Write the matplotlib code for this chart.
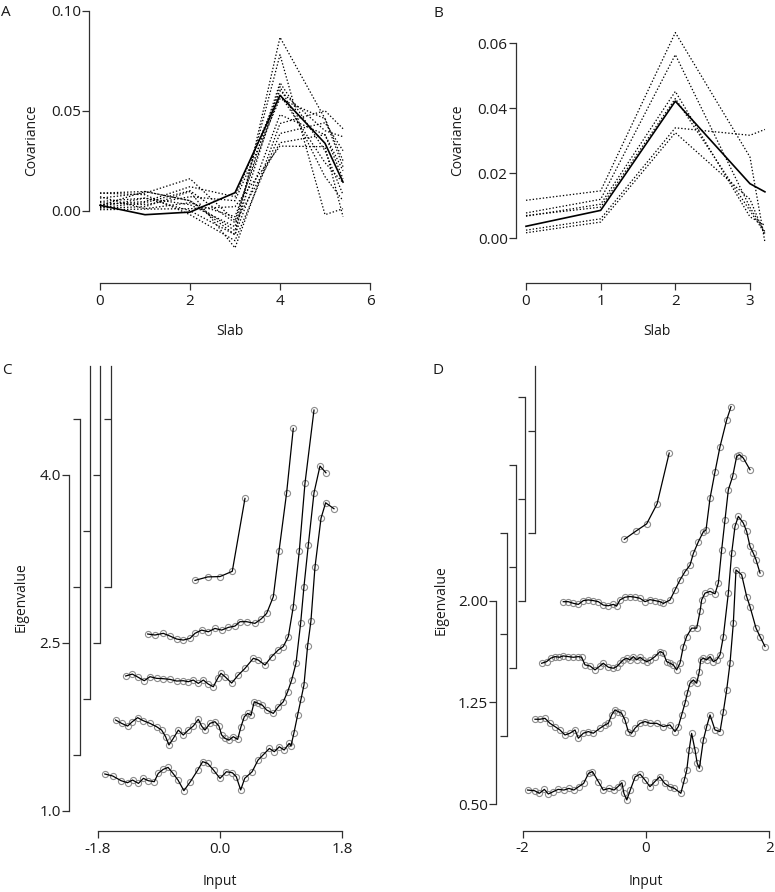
import numpy as np
import matplotlib
matplotlib.use("Agg")
import matplotlib.pyplot as plt

plt.rcParams['font.family'] = ['Open Sans', 'DejaVu Sans']

W, H = 775, 892
INK = '#303030'

# ---- panel A: covariance per slab ----
slab_a = [0, 1, 2, 3, 4, 5, 5.4]
mean_a = [0.0027, -0.0020, -0.0007, 0.0090, 0.0577, 0.0337, 0.0143]
runs_a = [
    [0.0088, 0.0096, 0.0050, -0.0120, 0.0867, 0.0460, 0.0220],
    [0.0063, 0.0088, 0.0160, -0.0050, 0.0640, 0.0300, 0.0080],
    [0.0030, 0.0046, 0.0120, 0.0070, 0.0600, 0.0400, 0.0370],
    [0.0013, 0.0020, 0.0096, -0.0186, 0.0436, 0.0500, 0.0410],
    [0.0046, 0.0063, 0.0030, -0.0080, 0.0780, -0.0020, 0.0010],
    [0.0005, 0.0008, 0.0010, 0.0020, 0.0323, 0.0320, -0.0030],
    [0.0088, 0.0080, -0.0020, -0.0150, 0.0386, 0.0440, 0.0300],
    [0.0025, 0.0096, 0.0050, -0.0100, 0.0620, 0.0170, 0.0050],
    [0.0040, 0.0030, 0.0070, 0.0050, 0.0560, 0.0460, 0.0250],
    [0.0020, 0.0063, 0.0000, -0.0120, 0.0480, 0.0380, 0.0160],
    [0.0070, 0.0010, 0.0040, -0.0030, 0.0580, 0.0240, 0.0140],
    [0.0015, 0.0040, 0.0100, -0.0060, 0.0340, 0.0380, 0.0200],
]

# ---- panel B ----
slab_b = [0, 1, 2, 3, 3.2]
mean_b = [0.0037, 0.0086, 0.0422, 0.0168, 0.0143]
runs_b = [
    [0.0117, 0.0146, 0.0633, 0.0250, -0.0012],
    [0.0078, 0.0120, 0.0565, 0.0095, 0.0020],
    [0.0068, 0.0105, 0.0452, 0.0066, 0.0040],
    [0.0025, 0.0060, 0.0340, 0.0317, 0.0335],
    [0.0017, 0.0050, 0.0325, 0.0120, 0.0010],
    [0.0070, 0.0096, 0.0430, 0.0085, 0.0015],
]

# ---- panel C: eigenvalue vs input, curves stacked by 0.5 ----
c1_x = [-1.695, -1.578, -1.455, -1.360, -1.287, -1.200, -1.127, -1.055, -0.967, -0.909,
        -0.836, -0.764, -0.691, -0.618, -0.531, -0.436, -0.327, -0.255, -0.182, -0.095,
        0.000, 0.095, 0.182, 0.240, 0.305, 0.364, 0.473, 0.560, 0.633, 0.727,
        0.800, 0.873, 0.945, 1.018, 1.045, 1.089, 1.143, 1.192, 1.236, 1.290,
        1.339, 1.398, 1.487, 1.555, 1.678]
c1_y = [1.328, 1.310, 1.268, 1.250, 1.274, 1.244, 1.289, 1.268, 1.259, 1.333,
        1.369, 1.387, 1.333, 1.274, 1.179, 1.259, 1.363, 1.438, 1.423, 1.363,
        1.289, 1.348, 1.339, 1.304, 1.185, 1.289, 1.348, 1.452, 1.497, 1.556,
        1.527, 1.571, 1.542, 1.601, 1.578, 1.696, 1.854, 1.994, 2.122, 2.471,
        2.696, 3.173, 3.611, 3.750, 3.697]
c2_x = [-1.536, -1.448, -1.359, -1.290, -1.212, -1.129, -1.030, -0.932, -0.859, -0.800,
        -0.751, -0.687, -0.613, -0.540, -0.466, -0.393, -0.319, -0.270, -0.221, -0.147,
        -0.074, -0.015, 0.025, 0.074, 0.133, 0.196, 0.260, 0.309, 0.358, 0.407,
        0.456, 0.505, 0.564, 0.623, 0.687, 0.785, 0.859, 0.932, 0.996, 1.055,
        1.119, 1.187, 1.236, 1.300, 1.384, 1.472, 1.560]
c2_y = [1.810, 1.780, 1.756, 1.795, 1.831, 1.804, 1.780, 1.750, 1.720, 1.661,
        1.587, 1.646, 1.720, 1.676, 1.720, 1.756, 1.816, 1.756, 1.720, 1.780,
        1.795, 1.756, 1.676, 1.646, 1.631, 1.661, 1.637, 1.750, 1.839, 1.869,
        1.854, 1.973, 1.958, 1.943, 1.899, 1.869, 1.929, 1.973, 2.063, 2.167,
        2.316, 2.673, 3.000, 3.372, 3.839, 4.078, 4.018]
c3_x = [-1.388, -1.290, -1.202, -1.114, -1.030, -0.932, -0.834, -0.736, -0.638, -0.540,
        -0.466, -0.393, -0.319, -0.245, -0.172, -0.098, -0.034, 0.015, 0.074, 0.172,
        0.270, 0.368, 0.491, 0.564, 0.662, 0.760, 0.859, 0.932, 1.006, 1.079,
        1.168, 1.251, 1.384]
c3_y = [2.203, 2.220, 2.191, 2.161, 2.197, 2.182, 2.179, 2.173, 2.158, 2.161,
        2.152, 2.167, 2.137, 2.167, 2.131, 2.107, 2.182, 2.227, 2.197, 2.140,
        2.212, 2.271, 2.361, 2.346, 2.301, 2.376, 2.436, 2.466, 2.555, 2.822,
        3.322, 3.923, 4.578]
c4_x = [-1.064, -0.957, -0.834, -0.736, -0.637, -0.540, -0.442, -0.368, -0.270, -0.172,
        -0.074, 0.025, 0.123, 0.221, 0.294, 0.393, 0.515, 0.603, 0.687, 0.785,
        0.869, 0.981, 1.079]
c4_y = [2.578, 2.569, 2.584, 2.560, 2.533, 2.524, 2.539, 2.584, 2.613, 2.598,
        2.628, 2.613, 2.637, 2.649, 2.688, 2.688, 2.673, 2.711, 2.762, 2.911,
        3.319, 3.839, 4.414]
c5_x = [-0.368, -0.181, 0.000, 0.181, 0.368]
c5_y = [3.057, 3.088, 3.091, 3.138, 3.789]
curves_c = [(c1_x, c1_y), (c2_x, c2_y), (c3_x, c3_y), (c4_x, c4_y), (c5_x, c5_y)]

# ---- panel D ----
d1_x = [-1.920, -1.807, -1.728, -1.648, -1.584, -1.505, -1.425, -1.330, -1.250, -1.170,
        -1.091, -1.011, -0.932, -0.868, -0.772, -0.693, -0.597, -0.518, -0.454, -0.390,
        -0.358, -0.311, -0.255, -0.175, -0.096, -0.016, 0.064, 0.143, 0.223, 0.303,
        0.382, 0.462, 0.565, 0.621, 0.661, 0.700, 0.740, 0.795, 0.830, 0.865,
        0.930, 0.984, 1.038, 1.119, 1.200, 1.254, 1.308, 1.362, 1.416, 1.459,
        1.551, 1.632, 1.686, 1.784, 1.849, 1.930]
d1_y = [0.603, 0.598, 0.579, 0.608, 0.574, 0.591, 0.608, 0.603, 0.615, 0.603,
        0.628, 0.652, 0.726, 0.739, 0.665, 0.603, 0.615, 0.603, 0.628, 0.657,
        0.579, 0.530, 0.603, 0.701, 0.720, 0.677, 0.628, 0.665, 0.701, 0.652,
        0.628, 0.615, 0.579, 0.677, 0.750, 0.900, 1.021, 0.898, 0.800, 0.763,
        0.972, 1.071, 1.157, 1.046, 1.034, 1.181, 1.341, 1.538, 1.833, 2.226,
        2.190, 2.030, 1.956, 1.796, 1.735, 1.661]
d2_x = [-1.800, -1.719, -1.638, -1.557, -1.476, -1.395, -1.314, -1.233, -1.151, -1.097,
        -1.016, -0.935, -0.854, -0.746, -0.665, -0.611, -0.557, -0.503, -0.449, -0.395,
        -0.341, -0.287, -0.233, -0.178, -0.097, -0.016, 0.065, 0.173, 0.281, 0.389,
        0.470, 0.524, 0.578, 0.632, 0.670, 0.714, 0.768, 0.822, 0.865, 0.887,
        0.930, 0.984, 1.038, 1.092, 1.146, 1.200, 1.254, 1.335, 1.389, 1.443,
        1.497, 1.578, 1.632, 1.686, 1.740, 1.784, 1.849]
d2_y = [1.125, 1.125, 1.132, 1.095, 1.071, 1.046, 1.009, 1.022, 1.046, 0.985,
        1.022, 1.034, 1.022, 1.059, 1.083, 1.095, 1.157, 1.194, 1.181, 1.169,
        1.120, 1.034, 1.022, 1.059, 1.095, 1.108, 1.095, 1.095, 1.071, 1.083,
        1.034, 1.071, 1.157, 1.243, 1.317, 1.391, 1.415, 1.391, 1.477, 1.563,
        1.575, 1.563, 1.587, 1.550, 1.563, 1.600, 1.735, 2.055, 2.350, 2.547,
        2.621, 2.572, 2.510, 2.400, 2.350, 2.301, 2.203]
d3_x = [-1.692, -1.611, -1.546, -1.476, -1.405, -1.341, -1.260, -1.178, -1.097, -1.043,
        -0.989, -0.908, -0.827, -0.746, -0.692, -0.611, -0.530, -0.476, -0.422, -0.368,
        -0.314, -0.260, -0.206, -0.151, -0.097, -0.043, 0.011, 0.065, 0.146, 0.227,
        0.281, 0.335, 0.389, 0.443, 0.497, 0.551, 0.605, 0.659, 0.740, 0.822,
        0.876, 0.903, 0.957, 1.038, 1.119, 1.173, 1.227, 1.281, 1.335, 1.405,
        1.470, 1.514, 1.578, 1.686]
d3_y = [1.538, 1.550, 1.575, 1.587, 1.582, 1.592, 1.587, 1.582, 1.587, 1.582,
        1.526, 1.518, 1.489, 1.518, 1.538, 1.509, 1.501, 1.513, 1.538, 1.563,
        1.575, 1.563, 1.587, 1.563, 1.582, 1.563, 1.550, 1.560, 1.587, 1.624,
        1.612, 1.550, 1.538, 1.526, 1.489, 1.538, 1.661, 1.735, 1.797, 1.797,
        1.920, 2.006, 2.055, 2.068, 2.050, 2.129, 2.375, 2.596, 2.817, 2.916,
        3.063, 3.076, 3.051, 2.965]
d4_x = [-1.341, -1.260, -1.178, -1.097, -1.016, -0.935, -0.854, -0.773, -0.692, -0.611,
        -0.530, -0.476, -0.422, -0.341, -0.260, -0.178, -0.097, -0.016, 0.065, 0.146,
        0.227, 0.281, 0.389, 0.470, 0.551, 0.632, 0.714, 0.768, 0.849, 0.930,
        0.973, 1.038, 1.119, 1.200, 1.308, 1.378]
d4_y = [1.992, 1.992, 1.980, 1.972, 2.000, 2.005, 2.000, 1.992, 1.967, 1.962,
        1.972, 1.960, 2.005, 2.025, 2.030, 2.025, 2.017, 1.992, 2.007, 2.000,
        1.992, 1.979, 2.004, 2.078, 2.152, 2.213, 2.262, 2.348, 2.434, 2.508,
        2.520, 2.754, 2.950, 3.135, 3.332, 3.430]
d5_x = [-0.351, -0.168, 0.011, 0.180, 0.376]
d5_y = [2.452, 2.511, 2.566, 2.714, 3.088]
curves_d = [(d1_x, d1_y), (d2_x, d2_y), (d3_x, d3_y), (d4_x, d4_y), (d5_x, d5_y)]

stack_offsets = [0.5, 1.0, 1.5, 2.0]


def add_axes_px(left, right, top, bottom):
    return fig.add_axes([left / W, 1 - bottom / H, (right - left) / W, (bottom - top) / H])


def r_style(ax, xb, yb, xticks, xlabels, yticks, ylabels):
    """Base-R look: separate left and bottom axis lines spanning only the ticks."""
    for s in ['top', 'right']:
        ax.spines[s].set_visible(False)
    for s in ['left', 'bottom']:
        ax.spines[s].set_color(INK)
        ax.spines[s].set_linewidth(0.9)
    ax.spines['left'].set_bounds(*yb)
    ax.spines['bottom'].set_bounds(*xb)
    ax.set_xticks(xticks)
    ax.set_xticklabels(xlabels)
    ax.set_yticks(yticks)
    ax.set_yticklabels(ylabels)
    ax.tick_params(axis='both', direction='out', length=4.8, width=0.9, color=INK,
                   labelcolor='#1a1a1a', labelsize=11)
    ax.tick_params(axis='x', pad=3)
    ax.tick_params(axis='y', pad=1)
    ax.patch.set_visible(False)


def scale_bars(rect, xlim, ylim, ticks, dists):
    """Extra unlabelled y axes for the stacked curves, each shifted by its offset."""
    for off, d in zip(stack_offsets, dists):
        top = ylim[1] - off
        bx = add_axes_px(*rect)
        bx.set_xlim(*xlim)
        bx.set_ylim(ylim[0] - off, top)
        for s in ['top', 'right', 'bottom']:
            bx.spines[s].set_visible(False)
        bx.spines['left'].set_position(('outward', -d * 0.72))
        bx.spines['left'].set_color(INK)
        bx.spines['left'].set_linewidth(0.9)
        bx.spines['left'].set_bounds(ticks[0], min(ticks[-1], top))
        bx.set_xticks([])
        bx.set_yticks([t for t in ticks if t <= top])
        bx.set_yticklabels([])
        bx.tick_params(axis='y', direction='out', length=4.8, width=0.9, color=INK)
        bx.patch.set_visible(False)


def draw_curves(ax, curves):
    for x, y in curves:
        ax.plot(x, y, linestyle='none', marker='o', ms=4.4, mfc='none',
                mec='#8c8c8c', mew=0.8, zorder=2)
        ax.plot(x, y, color='black', lw=0.9, zorder=3)


fig = plt.figure(figsize=(W / 100, H / 100), dpi=100)

# A
axA = add_axes_px(89.3, 380, 5, 282.7)
axA.set_xlim(-0.238, 6.222)
axA.set_ylim(-0.036, 0.10285)
for run in runs_a:
    axA.plot(slab_a, run, color='black', lw=0.9, linestyle=(0, (1.1, 1.6)))
axA.plot(slab_a, mean_a, color='black', lw=1.2)
r_style(axA, (0, 6), (0, 0.10), [0, 2, 4, 6], ['0', '2', '4', '6'],
        [0, 0.05, 0.10], ['0.00', '0.05', '0.10'])

# B
axB = add_axes_px(515.7, 770, 30, 282.7)
axB.set_xlim(-0.138, 3.268)
axB.set_ylim(-0.01366, 0.0641)
for run in runs_b:
    axB.plot(slab_b, run, color='black', lw=0.9, linestyle=(0, (1.1, 1.6)))
axB.plot(slab_b, mean_b, color='black', lw=1.2)
r_style(axB, (0, 3), (0, 0.06), [0, 1, 2, 3], ['0', '1', '2', '3'],
        [0, 0.02, 0.04, 0.06], ['0.00', '0.02', '0.04', '0.06'])

# C
rectC = (69, 360, 366.4, 831.2)
xlimC, ylimC = (-2.222, 2.061), (0.817, 4.968)
axC = add_axes_px(*rectC)
axC.set_xlim(*xlimC)
axC.set_ylim(*ylimC)
draw_curves(axC, curves_c)
r_style(axC, (-1.8, 1.8), (1.0, 4.0), [-1.8, 0, 1.8], ['-1.8', '0.0', '1.8'],
        [1.0, 2.5, 4.0], ['1.0', '2.5', '4.0'])
scale_bars(rectC, xlimC, ylimC, [1.0, 2.5, 4.0], [11, 21, 31, 42])

# D
rectD = (496, 772, 366.4, 830.5)
xlimD, ylimD = (-2.432, 2.043), (0.3046, 3.727)
axD = add_axes_px(*rectD)
axD.set_xlim(*xlimD)
axD.set_ylim(*ylimD)
draw_curves(axD, curves_d)
r_style(axD, (-2, 2), (0.5, 2.0), [-2, 0, 2], ['-2', '0', '2'],
        [0.5, 1.25, 2.0], ['0.50', '1.25', '2.00'])
scale_bars(rectD, xlimD, ylimD, [0.5, 1.25, 2.0], [10.7, 20, 29.3, 38.7])

# labels
def ftext(x, y, s, **kw):
    fig.text(x / W, 1 - y / H, s, ha='center', va='center', color='#1a1a1a', **kw)

ftext(31.7, 140, 'Covariance', rotation=90, fontsize=10)
ftext(458, 140, 'Covariance', rotation=90, fontsize=10)
ftext(230, 331.7, 'Slab', fontsize=10)
ftext(656.7, 331.7, 'Slab', fontsize=10)
ftext(20.7, 597, 'Eigenvalue', rotation=90, fontsize=10)
ftext(440.7, 600, 'Eigenvalue', rotation=90, fontsize=10)
ftext(220, 881.7, 'Input', fontsize=10)
ftext(646, 881.7, 'Input', fontsize=10)
for letter, (lx, ly) in zip('ABCD', [(6.3, 12.5), (438.5, 13.5), (6.5, 371), (438.5, 371)]):
    ftext(lx, ly, letter, fontsize=11)

fig.savefig('out.png', dpi=100)
